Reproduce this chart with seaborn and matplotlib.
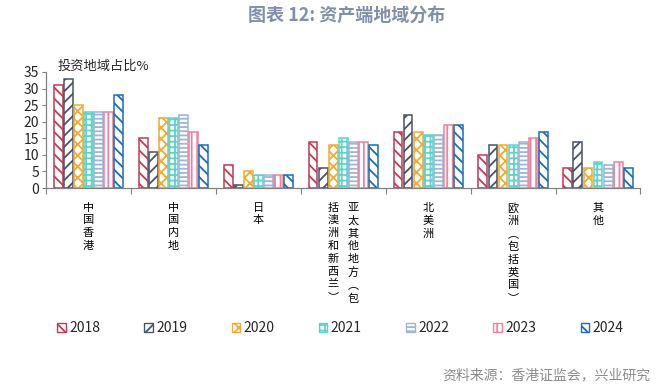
import pandas as pd
import matplotlib
matplotlib.use("Agg")
import matplotlib.pyplot as plt
from matplotlib.patches import Patch
import seaborn as sns

# --- dati ---
regions = ["中国香港", "中国内地", "日本", "亚太其他地方（包括澳洲和新西兰）",
           "北美洲", "欧洲（包括英国）", "其他"]
years = ["2018", "2019", "2020", "2021", "2022", "2023", "2024"]
v2018 = [31, 15, 7, 14, 17, 10, 6]
v2019 = [33, 11, 1, 6, 22, 13, 14]
v2020 = [25, 21, 5, 13, 17, 13, 6]
v2021 = [23, 21, 4, 15, 16, 13, 8]
v2022 = [23, 22, 4, 14, 16, 14, 7]
v2023 = [23, 17, 4, 14, 19, 15, 8]
v2024 = [28, 13, 4, 13, 19, 17, 6]
series = [v2018, v2019, v2020, v2021, v2022, v2023, v2024]

colors = ["#C23B55", "#44546A", "#F0AA35", "#5CD4CC", "#9DB5D8", "#EF8199", "#1B6EB4"]
hatches = ["\\\\\\", "///", "xxx", "+++", "----", "|||", "\\\\\\"]

rows = []
for y, vals in zip(years, series):
    for r, v in zip(regions, vals):
        rows.append({"region": r, "year": y, "value": v})
df = pd.DataFrame(rows)

sns.set_style("ticks")
plt.rcParams["font.family"] = ["Noto Sans CJK SC", "DejaVu Sans"]
plt.rcParams["hatch.linewidth"] = 1.3

fig = plt.figure(figsize=(6.62, 3.87), dpi=100)
ax = fig.add_axes([0.0695, 0.514, 0.898, 0.300])

sns.barplot(data=df, x="region", y="value", hue="year", palette=colors,
            width=0.83, gap=0.12, legend=False, ax=ax)

for cont, c, h in zip(ax.containers, colors, hatches):
    for bar in cont:
        bar.set_facecolor("white")
        bar.set_edgecolor(c)
        bar.set_linewidth(1.1)
        bar.set_hatch(h)

ax.set_ylim(0, 35)
ax.set_xlim(-0.5, len(regions) - 0.5)
ax.set_yticks(range(0, 36, 5))
ax.tick_params(axis="y", length=3, width=0.8, color="#808080", labelsize=10, pad=2)
ax.set_xticks(range(len(regions)))
ax.set_xticklabels([])
ax.tick_params(axis="x", which="major", length=0)
ax.set_xticks([i - 0.5 for i in range(len(regions) + 1)], minor=True)
ax.tick_params(axis="x", which="minor", length=4, width=0.8, color="#808080")
ax.set_xlabel("")
ax.set_ylabel("")
sns.despine(ax=ax)
for s in ["left", "bottom"]:
    ax.spines[s].set_color("#808080")
    ax.spines[s].set_linewidth(0.9)

# etichette verticali (un carattere per riga, colonne da destra a sinistra)
vert = str.maketrans({"（": "︵", "）": "︶"})
for i, name in enumerate(regions):
    name = name.translate(vert)
    cols = [name[k:k + 8] for k in range(0, len(name), 8)]
    n = len(cols)
    for j, col in enumerate(cols):
        dx = (n - 1) / 2 * 14.5 - j * 14.5
        ax.annotate("\n".join(col), xy=(i, 0), xycoords=("data", "axes fraction"),
                    xytext=(dx, -10.5), textcoords="offset points",
                    ha="center", va="top", fontsize=8, linespacing=1.33,
                    color="black")

ax.text(0.02, 1.05, "投资地域占比%", transform=ax.transAxes, fontsize=9.5,
        ha="left", va="center")

handles = [Patch(facecolor="white", edgecolor=c, hatch=h, linewidth=1.0)
           for c, h in zip(colors, hatches)]
fig.legend(handles, years, loc="center", bbox_to_anchor=(0.514, 0.152), ncol=7,
           frameon=False, fontsize=10, handlelength=0.6, handleheight=0.6,
           handletextpad=0.25, columnspacing=3.2)

fig.text(0.524, 0.961, "图表 12: 资产端地域分布", ha="center", va="center",
         fontsize=13, fontweight="bold", color="#8190A8")
fig.text(0.983, 0.031, "资料来源：香港证监会，兴业研究", ha="right", va="center",
         fontsize=10, color="#8C8C8C")

fig.savefig("out.png", dpi=100)
